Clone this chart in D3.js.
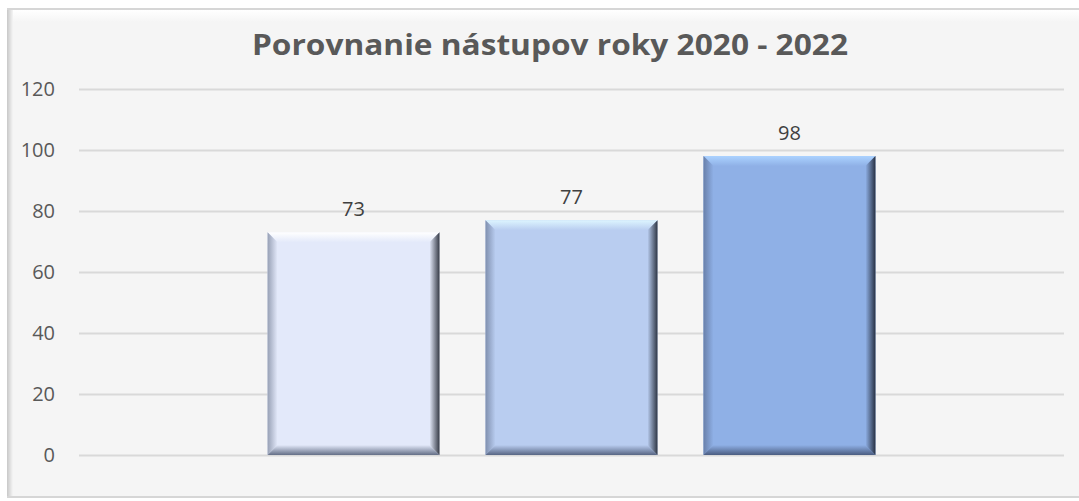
<!DOCTYPE html>
<html>
<head>
<meta charset="utf-8">
<script src="https://cdn.jsdelivr.net/npm/d3@7"></script>
<style>
	html, body { margin: 0; padding: 0; background: #ffffff; }
	svg { display: block; }
	.axis text { font-family: "Open Sans", sans-serif; font-size: 20px; fill: #595959; }
	.axis line { stroke: #d9d9d9; stroke-width: 2; }
</style>
</head>
<body>
<div class="c-svg"></div>
<script>
//DATA
//-------------------------------------------------------------------------

const title = "Porovnanie nástupov roky 2020 - 2022";
const years = ["2020", "2021", "2022"];
const values = [73, 77, 98];
const barColors = ["#e3e9fa", "#b9cdf0", "#8fb0e6"];
const yTicks = [0, 20, 40, 60, 80, 100, 120];

//OPTIONS
//-------------------------------------------------------------------------

const opts = {
	width: 1079,
	height: 501,
	margin: { top: 89, right: 15, bottom: 46, left: 79 }
};

const innerChart = {
	width: opts.width - opts.margin.left - opts.margin.right,
	height: opts.height - opts.margin.top - opts.margin.bottom
};

const bevel = 10;

const svg = d3.select(".c-svg")
	.append("svg")
	.attr("width", opts.width)
	.attr("height", opts.height);

const defs = svg.append("defs");

//frame shadow gradients
const leftShadow = defs.append("linearGradient").attr("id", "leftShadow")
	.attr("x1", 0).attr("x2", 1).attr("y1", 0).attr("y2", 0);
leftShadow.append("stop").attr("offset", 0).attr("stop-color", "#c8c8c8");
leftShadow.append("stop").attr("offset", 1).attr("stop-color", "#f5f5f5");

const topShine = defs.append("linearGradient").attr("id", "topShine")
	.attr("x1", 0).attr("x2", 0).attr("y1", 0).attr("y2", 1);
topShine.append("stop").attr("offset", 0).attr("stop-color", "#ffffff");
topShine.append("stop").attr("offset", 1).attr("stop-color", "#f5f5f5");

//FRAME
//-------------------------------------------------------------------------

svg.append("rect")
	.attr("x", 8).attr("y", 9)
	.attr("width", opts.width).attr("height", 488)
	.attr("fill", "#f5f5f5")
	.attr("stroke", "#d6d6d6")
	.attr("stroke-width", 2);

svg.append("rect")
	.attr("x", 9).attr("y", 10)
	.attr("width", opts.width).attr("height", 12)
	.attr("fill", "url(#topShine)");

svg.append("rect")
	.attr("x", 7).attr("y", 10)
	.attr("width", 6).attr("height", 486)
	.attr("fill", "url(#leftShadow)");

//TITLE
//-------------------------------------------------------------------------

svg.append("text")
	.attr("x", 550)
	.attr("y", 55)
	.attr("text-anchor", "middle")
	.attr("font-family", "'Open Sans', sans-serif")
	.attr("font-weight", "bold")
	.attr("font-size", 28)
	.attr("fill", "#595959")
	.attr("textLength", 596)
	.attr("lengthAdjust", "spacingAndGlyphs")
	.text(title);

//SCALES
//-------------------------------------------------------------------------

const g = svg.append("g")
	.attr("transform", `translate(${opts.margin.left} ${opts.margin.top})`);

const x = d3.scaleBand()
	.domain(years)
	.range([0, innerChart.width])
	.paddingInner(0.211)
	.paddingOuter(0.865);

const y = d3.scaleLinear()
	.domain([0, 120])
	.range([innerChart.height, 0]);

const yAxis = d3.axisLeft(y)
	.tickValues(yTicks)
	.tickSize(-innerChart.width)
	.tickPadding(24);

g.append("g")
	.attr("class", "axis y_axis")
	.call(yAxis)
	.call((sel) => sel.select(".domain").remove());

//BARS
//-------------------------------------------------------------------------

const data = years.map((d, i) => ({ year: d, value: values[i], color: barColors[i] }));

//gradients for bevel edges
data.forEach((d, i) => {
	const base = d3.color(d.color);
	const mk = (id, x2, y2, from, to) => {
		const lg = defs.append("linearGradient").attr("id", id)
			.attr("x1", 0).attr("y1", 0).attr("x2", x2).attr("y2", y2);
		lg.append("stop").attr("offset", 0).attr("stop-color", from);
		lg.append("stop").attr("offset", 1).attr("stop-color", to);
	};
	mk(`top${i}`, 0, 1, base.brighter(0.5).formatHex(), d.color);
	mk(`left${i}`, 1, 0, d3.interpolateRgb(d.color, "#3a4660")(0.45), d.color);
	mk(`right${i}`, 1, 0, d.color, d3.interpolateRgb(d.color, "#161b26")(0.85));
	mk(`bottom${i}`, 0, 1, d.color, d3.interpolateRgb(d.color, "#2e3a55")(0.7));
});

const bars = g.selectAll(".bar")
	.data(data)
	.enter()
	.append("g")
	.attr("class", "bar");

bars.append("rect")
	.attr("x", (d) => x(d.year))
	.attr("y", (d) => y(d.value))
	.attr("width", x.bandwidth())
	.attr("height", (d) => y(0) - y(d.value))
	.attr("fill", (d) => d.color);

function edge(d, side) {
	const x0 = x(d.year), x1 = x0 + x.bandwidth();
	const y0 = y(d.value), y1 = y(0);
	const b = bevel;
	if (side === "top") return [[x0, y0], [x1, y0], [x1 - b, y0 + b], [x0 + b, y0 + b]];
	if (side === "bottom") return [[x0 + b, y1 - b], [x1 - b, y1 - b], [x1, y1], [x0, y1]];
	if (side === "left") return [[x0, y0], [x0 + b, y0 + b], [x0 + b, y1 - b], [x0, y1]];
	return [[x1 - b, y0 + b], [x1, y0], [x1, y1], [x1 - b, y1 - b]];
}

["top", "left", "bottom", "right"].forEach((side) => {
	bars.append("polygon")
		.attr("points", (d) => edge(d, side).map((p) => p.join(",")).join(" "))
		.attr("fill", (d, i) => `url(#${side}${i})`);
});

//value labels
bars.append("text")
	.attr("x", (d) => x(d.year) + x.bandwidth() / 2)
	.attr("y", (d) => y(d.value) - 16)
	.attr("text-anchor", "middle")
	.attr("font-family", "'Open Sans', sans-serif")
	.attr("font-size", 20)
	.attr("fill", "#404040")
	.text((d) => d.value);
</script>
</body>
</html>
